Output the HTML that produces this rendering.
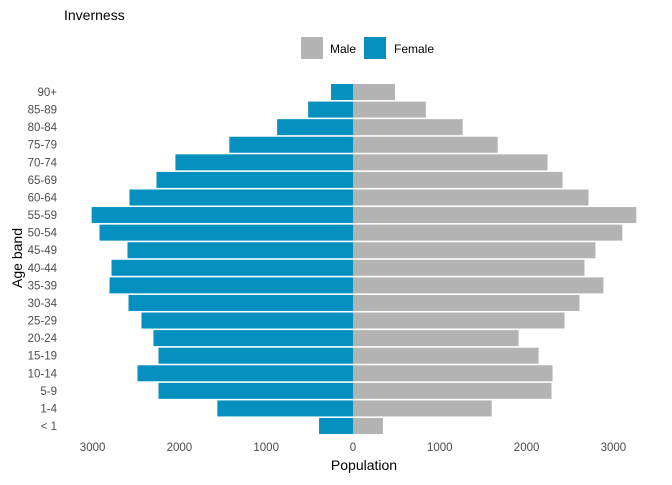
<!DOCTYPE html>
<html><head><meta charset="utf-8"><style>
body{margin:0;background:#fff;font-family:"Liberation Sans",Arial,sans-serif}
svg text{font-family:"Liberation Sans",Arial,sans-serif}
</style></head><body>
<svg width="672" height="480">
<text x="64" y="20" font-size="14" fill="#000">Inverness</text>
<g>
<rect x="301" y="37" width="22" height="22" fill="#b3b3b3"/>
<text x="330" y="53" font-size="12">Male</text>
<rect x="364" y="37" width="22" height="22" fill="#0590c0"/>
<text x="394" y="53" font-size="12">Female</text>
</g>
<g id="bars"></g>
<g id="yt"></g>
<g id="xt"></g>
<text x="364" y="470" font-size="14" text-anchor="middle">Population</text>
<text transform="translate(22,258) rotate(-90)" font-size="14" text-anchor="middle">Age band</text>
</svg>
<script>
const categories=["90+","85-89","80-84","75-79","70-74","65-69","60-64","55-59","50-54","45-49","40-44","35-39","30-34","25-29","20-24","15-19","10-14","5-9","1-4","< 1"];
const female=[253,517,874,1425,2046,2264,2575,3011,2920,2598,2782,2805,2586,2437,2299,2241,2483,2241,1563,391];
const male=[483,839,1264,1667,2241,2414,2713,3264,3103,2793,2667,2885,2609,2437,1908,2138,2299,2287,1598,345];
const xTicks=[-3000,-2000,-1000,0,1000,2000,3000];
const xTickLabels=["3000","2000","1000","0","1000","2000","3000"];
const NS="http://www.w3.org/2000/svg";
const x=v=>353+v*0.0868;
const y=i=>92+i*17.58;
const bars=document.getElementById('bars'),yt=document.getElementById('yt'),xt=document.getElementById('xt');
function mk(tag,a){const e=document.createElementNS(NS,tag);for(const k in a)e.setAttribute(k,a[k]);return e;}
categories.forEach((c,i)=>{
 const f=mk('rect',{x:x(-female[i]),y:y(i)-8,width:x(0)-x(-female[i]),height:16,fill:'#0590c0'});
 
 
 bars.appendChild(f);
 const m=mk('rect',{x:x(0),y:y(i)-8,width:x(male[i])-x(0),height:16,fill:'#b3b3b3'});
 
 
 bars.appendChild(m);
 const t=mk('text',{x:57,y:y(i)+4,'font-size':11.5,'text-anchor':'end',fill:'#4d4d4d'});
 t.textContent=c;
 
 
 yt.appendChild(t);
});
xTicks.forEach((v,i)=>{
 const t=mk('text',{x:x(v),y:451,'font-size':11.5,'text-anchor':'middle',fill:'#4d4d4d'});
 t.textContent=xTickLabels[i];
 
 
 xt.appendChild(t);
});
</script>
</body></html>
